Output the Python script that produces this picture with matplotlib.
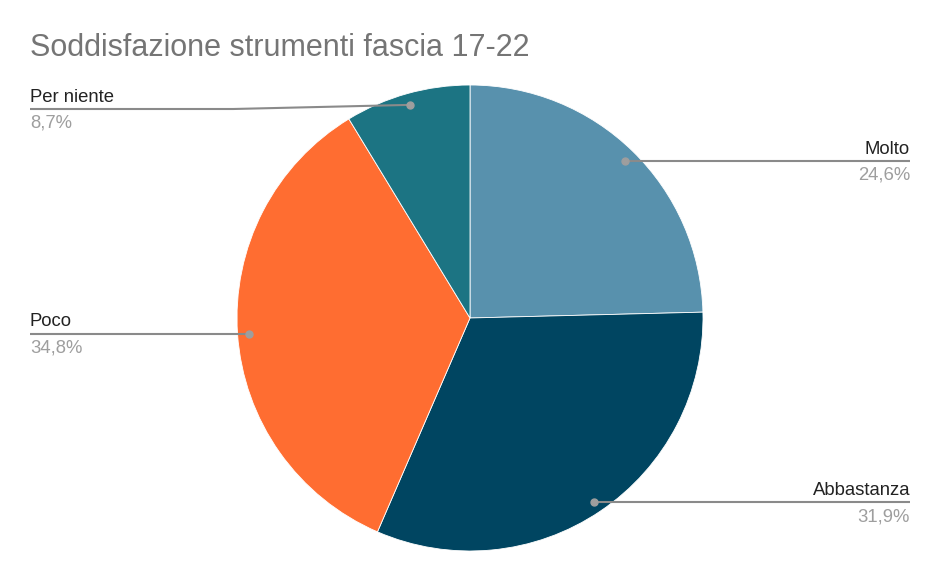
import numpy as np
import matplotlib.pyplot as plt

plt.rcParams['font.family'] = ['Liberation Sans', 'DejaVu Sans']

TITLE = 'Soddisfazione strumenti fascia 17-22'
categories = ['Molto', 'Abbastanza', 'Poco', 'Per niente']
percent = [24.6, 31.9, 34.8, 8.7]
colours = ['#5891AD', '#004561', '#FF6D31', '#1C7483']

W, H = 941, 581
CX, CY, R = 470, H - 318, 233

fig = plt.figure(figsize=(W / 100, H / 100), dpi=100)
ax = fig.add_axes([0, 0, 1, 1])

wedges, _ = ax.pie(percent, colors=colours, startangle=90, counterclock=False,
                   center=(CX, CY), radius=R, frame=True,
                   wedgeprops=dict(linewidth=0.6, edgecolor='white'))
ax.set_xlim(0, W)
ax.set_ylim(0, H)
ax.set_aspect('equal')
ax.axis('off')

fig.text(30 / W, 1 - 56 / H, TITLE, fontsize=22, color='#757575', ha='left', va='baseline')

# label positions: (x end of line, line y, side)
label_pos = {
    'Molto': (910, 161, 'right'),
    'Abbastanza': (910, 502, 'right'),
    'Poco': (30, 333.5, 'left'),
    'Per niente': (30, 109, 'left'),
}

for w, cat, pct in zip(wedges, categories, percent):
    ang = np.deg2rad((w.theta1 + w.theta2) / 2)
    dx = CX + 0.95 * R * np.cos(ang)
    dy = CY + 0.95 * R * np.sin(ang)
    lx, ly, side = label_pos[cat]
    ly = H - ly
    if cat == 'Per niente':
        xs = [dx, 233, lx]
        ys = [dy, ly, ly]
    else:
        xs = [dx, lx]
        ys = [ly, ly]
        dy = ly
    ax.plot(xs, ys, color='#8a8a8a', lw=1.5, solid_capstyle='butt')
    ax.plot(dx, dy, 'o', color='#9e9e9e', ms=5)
    ax.text(lx, ly + 7, cat, fontsize=13.3, color='#222222', ha=side, va='baseline')
    ax.text(lx, ly - 6, f'{pct:.1f}%'.replace('.', ','), fontsize=13.3,
            color='#9e9e9e', ha=side, va='top')

fig.savefig('out.png', dpi=100, facecolor='white')
